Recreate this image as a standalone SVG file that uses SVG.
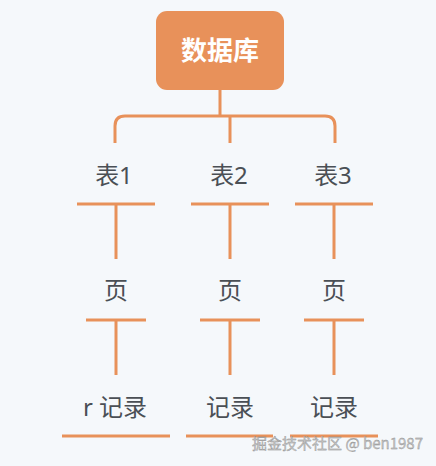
<svg xmlns="http://www.w3.org/2000/svg" width="436" height="466" viewBox="0 0 436 466">
<style>
.ln{stroke:#e8915a;stroke-width:3;fill:none}
.lb{font-family:"Noto Sans","Noto Sans CJK SC",sans-serif;font-size:24px;fill:#4a4f55;text-anchor:middle}
</style>
<rect width="436" height="466" fill="#f5f8fb"/>
<g id="connectors">
<path class="ln" d="M220,90 V116 M115,143 V126 Q115,116 125,116 H325 Q335,116 335,126 V143 M230,116 V143"/>
<path class="ln" d="M77,204 H155 M116,204 V259 M191,204 H269 M230,204 V259 M295,204 H373 M334,204 V259"/>
<path class="ln" d="M86,320 H146 M116,320 V375 M200,320 H260 M230,320 V375 M304,320 H364 M334,320 V375"/>
<path class="ln" d="M62,436 H170 M186,436 H273 M290,436 H378"/>
</g>
<g id="root">
<rect x="156" y="11" width="128" height="79" rx="11" fill="#e8915a"/>
<text x="220" y="60" font-family="Noto Sans CJK SC,sans-serif" font-size="26" font-weight="bold" fill="#ffffff" text-anchor="middle">数据库</text>
</g>
<g id="t1"><text class="lb" x="114" y="184">表1</text></g>
<g id="t2"><text class="lb" x="229" y="184">表2</text></g>
<g id="t3"><text class="lb" x="333" y="184">表3</text></g>
<g id="p1"><text class="lb" x="116" y="299">页</text></g>
<g id="p2"><text class="lb" x="230" y="299">页</text></g>
<g id="p3"><text class="lb" x="334" y="299">页</text></g>
<g id="r1"><text class="lb" x="115" y="416">r 记录</text></g>
<g id="r2"><text class="lb" x="230" y="416">记录</text></g>
<g id="r3"><text class="lb" x="334" y="416">记录</text></g>
<text x="423" y="449" font-family="Noto Sans CJK SC,sans-serif" font-size="15" fill="#c4c4c4" stroke="#888" stroke-width="0.3" text-anchor="end">掘金技术社区 @ ben1987</text>
</svg>
